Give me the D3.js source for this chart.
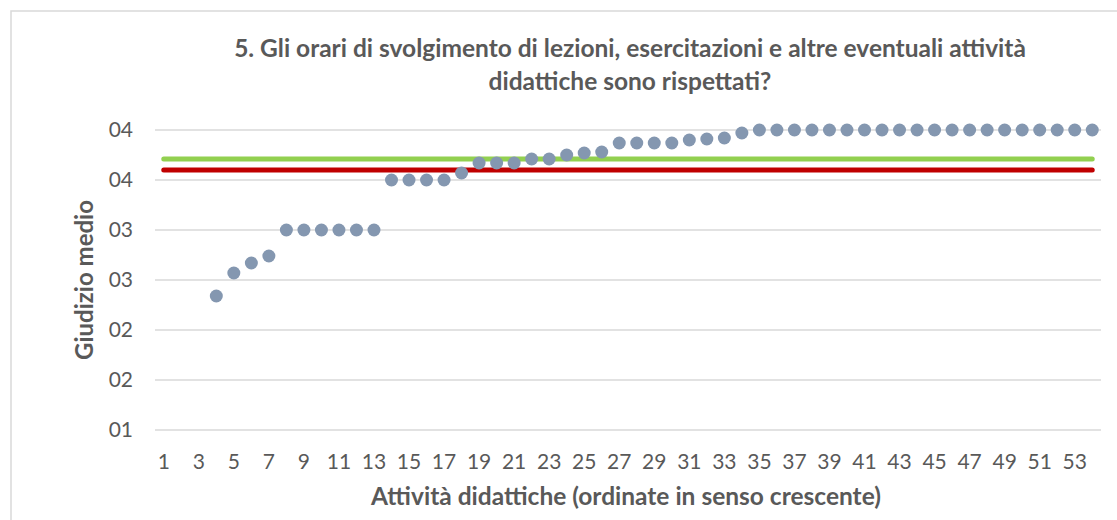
<!DOCTYPE html>
<html>
<head>
<meta charset="utf-8">
<script src="https://cdn.jsdelivr.net/npm/d3@7"></script>
<style>
  body { margin: 0; background: #fff; }
  svg { display: block; font-family: Lato, 'Open Sans', sans-serif; }
</style>
</head>
<body>
<svg width="1117" height="520"></svg>
<script>
// activities 1..54, sorted by mean score (first three have no score)
const categories = d3.range(1, 55);
const scores = [
  null, null, null, 2.34, 2.57, 2.67, 2.74, 3.0, 3.0, 3.0,
  3.0, 3.0, 3.0, 3.5, 3.5, 3.5, 3.5, 3.57, 3.67, 3.67,
  3.67, 3.71, 3.71, 3.75, 3.77, 3.78, 3.87, 3.87, 3.87, 3.87,
  3.9, 3.91, 3.92, 3.97, 4.0, 4.0, 4.0, 4.0, 4.0, 4.0,
  4.0, 4.0, 4.0, 4.0, 4.0, 4.0, 4.0, 4.0, 4.0, 4.0,
  4.0, 4.0, 4.0, 4.0
];
const refLines = [
  { name: 'media corso', value: 3.71, color: '#92D050' },
  { name: 'media facoltà', value: 3.6, color: '#C00000' }
];
const yTicks = [1, 1.5, 2, 2.5, 3, 3.5, 4];
const xTicks = categories.filter(c => c % 2 === 1);

const titleLines = [
  '5. Gli orari di svolgimento di lezioni, esercitazioni e altre eventuali attività',
  'didattiche sono rispettati?'
];
const xTitle = 'Attività didattiche (ordinate in senso crescente)';
const yTitle = 'Giudizio medio';

const svg = d3.select('svg');

const margin = { left: 155, right: 16, top: 130, bottom: 90 };
const width = 1117;
const height = 520;

// chart frame (runs off the right and bottom edges)
svg
  .append('rect')
  .attr('x', 11)
  .attr('y', 11)
  .attr('width', 1200)
  .attr('height', 600)
  .attr('fill', 'none')
  .attr('stroke', '#D9D9D9')
  .attr('stroke-width', 1.5);

const x = d3
  .scaleBand()
  .domain(categories)
  .range([margin.left, width - margin.right])
  .padding(0);

const y = d3
  .scaleLinear()
  .domain([1, 4])
  .range([height - margin.bottom, margin.top]);

const cx = c => x(c) + x.bandwidth() / 2;

// gridlines
svg
  .append('g')
  .selectAll('line')
  .data(yTicks)
  .join('line')
  .attr('x1', x.range()[0])
  .attr('x2', x.range()[1])
  .attr('y1', d => y(d))
  .attr('y2', d => y(d))
  .attr('stroke', '#D9D9D9')
  .attr('stroke-width', 1.5);

// y axis labels
const yAxis = svg
  .append('g')
  .attr('transform', `translate(${margin.left - 22},0)`)
  .call(
    d3
      .axisLeft(y)
      .tickValues(yTicks)
      .tickSize(0)
      .tickPadding(0)
      .tickFormat(d => String(Math.round(d)).padStart(2, '0'))
  );
yAxis.select('.domain').remove();
yAxis
  .selectAll('text')
  .attr('fill', '#595959')
  .style('font-size', '21px')
  .style('font-family', 'Lato, sans-serif');

// x axis labels
const xAxis = svg
  .append('g')
  .attr('transform', `translate(0,${height - margin.bottom + 32})`)
  .call(d3.axisBottom(x).tickValues(xTicks).tickSize(0));
xAxis.select('.domain').remove();
xAxis
  .selectAll('text')
  .attr('fill', '#595959')
  .attr('dy', '0.35em')
  .attr('y', 0)
  .style('font-size', '21px')
  .style('font-family', 'Lato, sans-serif');

// reference lines
const refLine = d3
  .line()
  .x(d => cx(d.c))
  .y(d => y(d.v));

svg
  .append('g')
  .selectAll('path')
  .data(refLines)
  .join('path')
  .attr('d', r =>
    refLine([
      { c: categories[0], v: r.value },
      { c: categories[categories.length - 1], v: r.value }
    ])
  )
  .attr('fill', 'none')
  .attr('stroke', r => r.color)
  .attr('stroke-width', 5)
  .attr('stroke-linecap', 'round');

// points
svg
  .append('g')
  .selectAll('circle')
  .data(categories.map((c, i) => ({ c, v: scores[i] })).filter(d => d.v != null))
  .join('circle')
  .attr('cx', d => cx(d.c))
  .attr('cy', d => y(d.v))
  .attr('r', 6.5)
  .attr('fill', '#8497B0');

// title
svg
  .append('text')
  .attr('x', 630)
  .attr('y', 57)
  .attr('text-anchor', 'middle')
  .attr('fill', '#595959')
  .style('font-size', '24.5px')
  .style('font-weight', 'bold')
  .selectAll('tspan')
  .data(titleLines)
  .join('tspan')
  .attr('x', 630)
  .attr('dy', (d, i) => (i === 0 ? 0 : 33))
  .text(d => d);

// axis titles
svg
  .append('text')
  .attr('x', 626)
  .attr('y', 505)
  .attr('text-anchor', 'middle')
  .attr('fill', '#595959')
  .style('font-size', '24.5px')
  .style('font-weight', 'bold')
  .text(xTitle);

svg
  .append('text')
  .attr('transform', `translate(93,280) rotate(-90)`)
  .attr('text-anchor', 'middle')
  .attr('fill', '#595959')
  .style('font-size', '24px')
  .style('font-weight', 'bold')
  .text(yTitle);
</script>
</body>
</html>
